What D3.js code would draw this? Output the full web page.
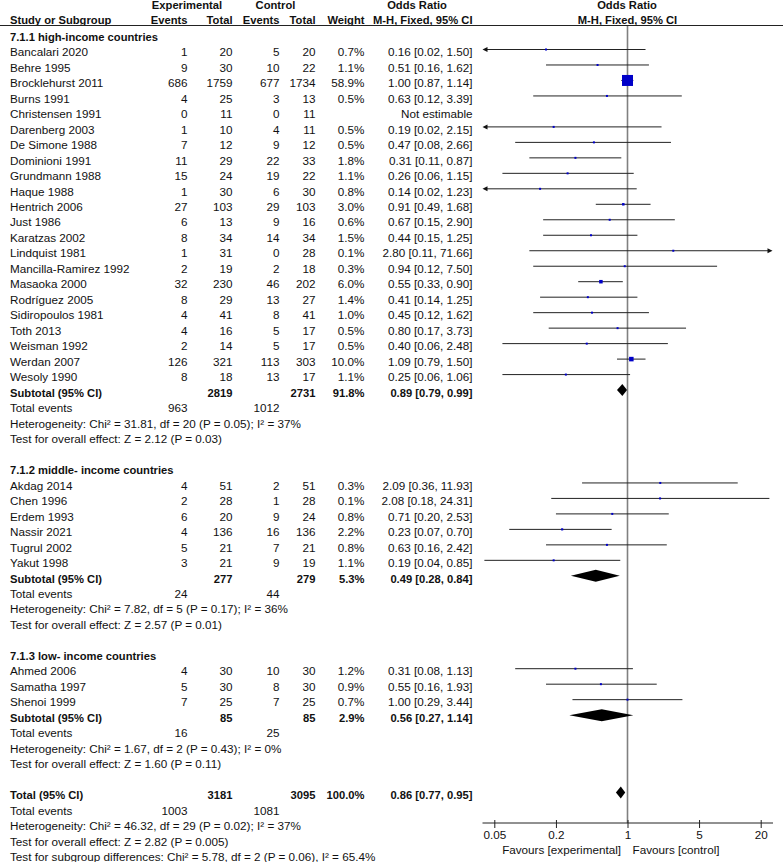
<!DOCTYPE html>
<html>
<head>
<meta charset="utf-8">
<script src="https://cdn.jsdelivr.net/npm/d3@7"></script>
<style>
  html, body { margin: 0; padding: 0; background: #fff; }
  svg { display: block; }
  text { font-family: "Liberation Sans", Arial, sans-serif; font-size: 11.7px; fill: #111; }
  .b { font-weight: bold; font-size: 11.2px; }
</style>
</head>
<body>
<div id="chart"></div>
<script>
// ---------- DATA ----------
const subgroupTitles = ["7.1.1 high-income countries", "7.1.2 middle- income countries", "7.1.3 low- income countries"];

const studyNames = [
  "Bancalari 2020","Behre 1995","Brocklehurst 2011","Burns 1991","Christensen 1991","Darenberg 2003",
  "De Simone 1988","Dominioni 1991","Grundmann 1988","Haque 1988","Hentrich 2006","Just 1986",
  "Karatzas 2002","Lindquist 1981","Mancilla-Ramirez 1992","Masaoka 2000","Rodríguez 2005",
  "Sidiropoulos 1981","Toth 2013","Weisman 1992","Werdan 2007","Wesoly 1990",
  "Akdag 2014","Chen 1996","Erdem 1993","Nassir 2021","Tugrul 2002","Yakut 1998",
  "Ahmed 2006","Samatha 1997","Shenoi 1999"
];
const studyGroup = [0,0,0,0,0,0,0,0,0,0,0,0,0,0,0,0,0,0,0,0,0,0, 1,1,1,1,1,1, 2,2,2];
const expEvents  = [1,9,686,4,0,1,7,11,15,1,27,6,8,1,2,32,8,4,4,2,126,8, 4,2,6,4,5,3, 4,5,7];
const expTotals  = [20,30,1759,25,11,10,12,29,24,30,103,13,34,31,19,230,29,41,16,14,321,18, 51,28,20,136,21,21, 30,30,25];
const ctrlEvents = [5,10,677,3,0,4,9,22,19,6,29,9,14,0,2,46,13,8,5,5,113,13, 2,1,9,16,7,9, 10,8,7];
const ctrlTotals = [20,22,1734,13,11,11,12,33,22,30,103,16,34,28,18,202,27,41,17,17,303,17, 51,28,24,136,21,19, 30,30,25];
const weights    = [0.7,1.1,58.9,0.5,null,0.5,0.5,1.8,1.1,0.8,3.0,0.6,1.5,0.1,0.3,6.0,1.4,1.0,0.5,0.5,10.0,1.1, 0.3,0.1,0.8,2.2,0.8,1.1, 1.2,0.9,0.7];
const orValues   = [0.16,0.51,1.00,0.63,null,0.19,0.47,0.31,0.26,0.14,0.91,0.67,0.44,2.80,0.94,0.55,0.41,0.45,0.80,0.40,1.09,0.25, 2.09,2.08,0.71,0.23,0.63,0.19, 0.31,0.55,1.00];
const ciLow      = [0.02,0.16,0.87,0.12,null,0.02,0.08,0.11,0.06,0.02,0.49,0.15,0.15,0.11,0.12,0.33,0.14,0.12,0.17,0.06,0.79,0.06, 0.36,0.18,0.20,0.07,0.16,0.04, 0.08,0.16,0.29];
const ciHigh     = [1.50,1.62,1.14,3.39,null,2.15,2.66,0.87,1.15,1.23,1.68,2.90,1.25,71.66,7.50,0.90,1.25,1.62,3.73,2.48,1.50,1.06, 11.93,24.31,2.53,0.70,2.42,0.85, 1.13,1.93,3.44];

const subExpTotals  = [2819, 277, 85];
const subCtrlTotals = [2731, 279, 85];
const subWeights    = [91.8, 5.3, 2.9];
const subOR         = [0.89, 0.49, 0.56];
const subLow        = [0.79, 0.28, 0.27];
const subHigh       = [0.99, 0.84, 1.14];
const subExpEvents  = [963, 24, 16];
const subCtrlEvents = [1012, 44, 25];
const subHetText    = [
  "Heterogeneity: Chi² = 31.81, df = 20 (P = 0.05); I² = 37%",
  "Heterogeneity: Chi² = 7.82, df = 5 (P = 0.17); I² = 36%",
  "Heterogeneity: Chi² = 1.67, df = 2 (P = 0.43); I² = 0%"
];
const subTestText   = [
  "Test for overall effect: Z = 2.12 (P = 0.03)",
  "Test for overall effect: Z = 2.57 (P = 0.01)",
  "Test for overall effect: Z = 1.60 (P = 0.11)"
];

const totalExpTotal = 3181, totalCtrlTotal = 3095, totalWeight = 100.0;
const totalOR = 0.86, totalLow = 0.77, totalHigh = 0.95;
const totalExpEvents = 1003, totalCtrlEvents = 1081;
const totalNotes = [
  "Heterogeneity: Chi² = 46.32, df = 29 (P = 0.02); I² = 37%",
  "Test for overall effect: Z = 2.82 (P = 0.005)",
  "Test for subgroup differences: Chi² = 5.78, df = 2 (P = 0.06), I² = 65.4%"
];

const tickValues = [0.05, 0.2, 1, 5, 20];
const favourLabels = ["Favours [experimental]", "Favours [control]"];

// ---------- LAYOUT ----------
const W = 783, H = 862;
const svg = d3.select("#chart").append("svg").attr("width", W).attr("height", H);

const rowY = r => 52 + (r - 1) * 15.48;     // visual centre of row text
const base = r => rowY(r) + 4.2;           // text baseline
const markY = r => rowY(r) - 2.5;          // marks centre

const col = { name: 10, ee: 187.5, et: 232.5, ce: 279.5, ct: 315.5, w: 364.5, ci: 472.5 };

const x = d3.scaleLog().domain([0.05, 20]).range([494.3, 760.7]);
const xMinPx = 482.5, xMaxPx = 772.5;
const axisY = 823;

const f2 = d3.format(".2f"), f1 = d3.format(".1f");
const ciText = (o, l, h) => `${f2(o)} [${f2(l)}, ${f2(h)}]`;

// Build rows
const rows = [];
let r = 0;
subgroupTitles.forEach((title, g) => {
  rows.push({ type: "heading", r: r++, label: title });
  studyNames.forEach((n, i) => {
    if (studyGroup[i] !== g) return;
    rows.push({ type: "study", r: r++, i });
  });
  rows.push({ type: "subtotal", r: r++, g });
  rows.push({ type: "events", r: r++, e: subExpEvents[g], c: subCtrlEvents[g] });
  rows.push({ type: "note", r: r++, label: subHetText[g] });
  rows.push({ type: "note", r: r++, label: subTestText[g] });
  r++; // blank
});
rows.push({ type: "total", r: r++ });
rows.push({ type: "events", r: r++, e: totalExpEvents, c: totalCtrlEvents });
totalNotes.forEach(t => rows.push({ type: "note", r: r++, label: t }));

// ---------- HEADER ----------
const hdr = svg.append("g");
function htext(xp, y, s, anchor) {
  hdr.append("text").attr("class", "b").attr("x", xp).attr("y", y).attr("text-anchor", anchor).text(s);
}
htext(187, 9, "Experimental", "middle");
htext(275.5, 9, "Control", "middle");
htext(417, 9, "Odds Ratio", "middle");
htext(627, 9, "Odds Ratio", "middle");
htext(10, 23.5, "Study or Subgroup", "start");
htext(col.ee, 23.5, "Events", "end");
htext(col.et, 23.5, "Total", "end");
htext(col.ce, 23.5, "Events", "end");
htext(col.ct, 23.5, "Total", "end");
htext(col.w, 23.5, "Weight", "end");
htext(col.ci, 23.5, "M-H, Fixed, 95% CI", "end");
htext(627.5, 23.5, "M-H, Fixed, 95% CI", "middle");

svg.append("line").attr("x1", 0).attr("x2", W).attr("y1", 25.5).attr("y2", 25.5)
  .attr("stroke", "#222").attr("stroke-width", 1.2);

// Vertical line of no effect
svg.append("line").attr("x1", x(1)).attr("x2", x(1)).attr("y1", 26).attr("y2", axisY)
  .attr("stroke", "#808080").attr("stroke-width", 1.6);

// ---------- ROWS ----------
const body = svg.append("g");
function t(xp, y, s, anchor, bold) {
  body.append("text").attr("x", xp).attr("y", y).attr("text-anchor", anchor)
    .attr("class", bold ? "b" : null).text(s);
}

const marks = svg.append("g");
function ciLine(lo, hi, y) {
  let x1 = x(lo), x2 = x(hi);
  const clipL = x1 < xMinPx, clipR = x2 > xMaxPx;
  x1 = Math.max(x1, xMinPx); x2 = Math.min(x2, xMaxPx);
  marks.append("line").attr("x1", clipL ? x1 + 3 : x1).attr("x2", clipR ? x2 - 3 : x2)
    .attr("y1", y).attr("y2", y).attr("stroke", "#222").attr("stroke-width", 1);
  if (clipL) marks.append("path").attr("d", `M${x1},${y} l5,-2.5 l0,5 z`).attr("fill", "#111");
  if (clipR) marks.append("path").attr("d", `M${x2},${y} l-5,-2.5 l0,5 z`).attr("fill", "#111");
}
function diamond(o, lo, hi, y) {
  const h = 6;
  marks.append("path")
    .attr("d", `M${x(lo)},${y} L${x(o)},${y - h} L${x(hi)},${y} L${x(o)},${y + h} Z`)
    .attr("fill", "#000");
}

rows.forEach(d => {
  const yb = base(d.r), ym = markY(d.r);
  if (d.type === "heading") {
    t(col.name, yb, d.label, "start", true);
  } else if (d.type === "study") {
    const i = d.i;
    t(col.name, yb, studyNames[i], "start");
    t(col.ee, yb, expEvents[i], "end");
    t(col.et, yb, expTotals[i], "end");
    t(col.ce, yb, ctrlEvents[i], "end");
    t(col.ct, yb, ctrlTotals[i], "end");
    if (orValues[i] == null) {
      t(col.ci, yb, "Not estimable", "end");
    } else {
      t(col.w, yb, f1(weights[i]) + "%", "end");
      t(col.ci, yb, ciText(orValues[i], ciLow[i], ciHigh[i]), "end");
      ciLine(ciLow[i], ciHigh[i], ym);
      const s = Math.max(2, 11 * Math.sqrt(weights[i] / 58.9));
      marks.append("rect").attr("x", x(orValues[i]) - s / 2).attr("y", ym - s / 2)
        .attr("width", s).attr("height", s).attr("fill", "#0000c8");
    }
  } else if (d.type === "subtotal") {
    const g = d.g;
    t(col.name, yb, "Subtotal (95% CI)", "start", true);
    t(col.et, yb, subExpTotals[g], "end", true);
    t(col.ct, yb, subCtrlTotals[g], "end", true);
    t(col.w, yb, f1(subWeights[g]) + "%", "end", true);
    t(col.ci, yb, ciText(subOR[g], subLow[g], subHigh[g]), "end", true);
    diamond(subOR[g], subLow[g], subHigh[g], ym);
  } else if (d.type === "total") {
    t(col.name, yb, "Total (95% CI)", "start", true);
    t(col.et, yb, totalExpTotal, "end", true);
    t(col.ct, yb, totalCtrlTotal, "end", true);
    t(col.w, yb, f1(totalWeight) + "%", "end", true);
    t(col.ci, yb, ciText(totalOR, totalLow, totalHigh), "end", true);
    diamond(totalOR, totalLow, totalHigh, ym);
  } else if (d.type === "events") {
    t(col.name, yb, "Total events", "start");
    t(col.ee, yb, d.e, "end");
    t(col.ce, yb, d.c, "end");
  } else if (d.type === "note") {
    t(col.name, yb, d.label, "start");
  }
});

// ---------- AXIS ----------
const axisG = svg.append("g").attr("transform", `translate(0,${axisY})`);
axisG.call(d3.axisBottom(x).tickValues(tickValues).tickFormat(d => String(d))
  .tickSizeInner(5).tickSizeOuter(0).tickPadding(2.5));
axisG.select(".domain").remove();
axisG.selectAll(".tick line").attr("stroke", "#222").attr("y1", -3);
axisG.selectAll(".tick text").attr("font-family", null).attr("font-size", null).attr("fill", "#111");
axisG.append("line").attr("x1", xMinPx).attr("x2", xMaxPx + 0.5).attr("y1", 0).attr("y2", 0)
  .attr("stroke", "#222").attr("stroke-width", 1);

svg.append("text").attr("x", x(1) - 6.5).attr("y", 854).attr("text-anchor", "end").text(favourLabels[0]);
svg.append("text").attr("x", x(1) + 5).attr("y", 854).attr("text-anchor", "start").text(favourLabels[1]);
</script>
</body>
</html>
